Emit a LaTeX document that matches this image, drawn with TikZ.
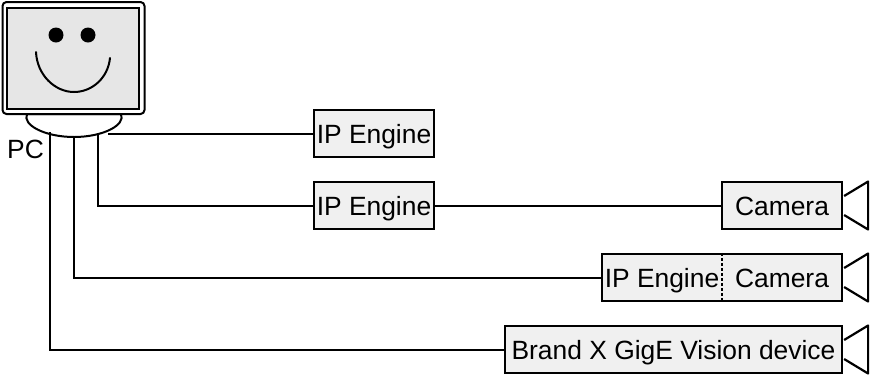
\documentclass[tikz,border=0pt]{standalone}
\usepackage{fontspec}
\setmainfont{Liberation Sans}
\usetikzlibrary{calc}
\definecolor{gris}{HTML}{F0F0F0}
\definecolor{pantalla}{HTML}{E6E6E6}
\tikzset{
  caja/.style={rectangle, draw=black, line width=2.2pt, fill=gris, inner sep=0pt,
    minimum height=47pt, text height=19pt, text depth=0pt, font=\fontsize{26.4}{30}\selectfont},
  texto/.style={inner sep=0pt, text height=19pt, text depth=0pt, font=\fontsize{26.4}{30}\selectfont},
  cable/.style={line width=2pt, line join=miter},
  lente/.style={draw=black, line width=2.2pt, fill=white, line join=round}
}
% lens drawn against the east side of a box
\newcommand{\lente}[1]{%
  \draw[lente] ($(#1.east)+(1,-9.5)$) -- ++(24,-14.5) -- ++(0,48) -- ++(-24,-14.5);}

\begin{document}
\begin{tikzpicture}[x=1pt, y=-1pt]
  \useasboundingbox (0,0) rectangle (870,376);

  % --- PC ---
  \draw[line width=2pt, fill=white] (27,114)
    .. controls (22,125) and (45,137) .. (74,137)
    .. controls (103,137) and (126,125) .. (121,114) -- cycle;
  \node[draw=black, line width=2pt, rounded corners=4pt, fill=white, inner sep=0pt,
    minimum width=142pt, minimum height=112pt] (monitor) at (73.5,58) {};
  \node[draw=black, line width=2.2pt, fill=pantalla, inner sep=0pt,
    minimum width=132pt, minimum height=101pt] (pantalla) at (73,58.5) {};
  \node[circle, fill=black, inner sep=0pt, minimum size=15pt] (ojo1) at (56,35) {};
  \node[circle, fill=black, inner sep=0pt, minimum size=15pt] (ojo2) at (88,35) {};
  \draw[line width=2pt, line cap=round] (36,52)
    .. controls (37,75) and (55,92) .. (74,92)
    .. controls (92,92) and (108,78) .. (110,58);
  \node[texto, anchor=center] (pc) at (25.5,149) {PC};

  % --- Salidas del PC ---
  \coordinate (sal1) at (108,133.5);
  \coordinate (sal2) at (98,135);
  \coordinate (sal3) at (74,137);
  \coordinate (sal4) at (50,132);

  % --- Cajas ---
  \node[caja, minimum width=120pt] (motor1) at (374,133.5) {IP Engine};
  \node[caja, minimum width=120pt] (motor2) at (374,205.5) {IP Engine};
  \node[caja, minimum width=120pt] (camara1) at (782,205.5) {Camera};
  \node[caja, minimum width=240pt] (doble) at (722,277.5) {};
  \node[texto] (motor3) at (662,277.5) {IP Engine};
  \node[texto] (camara2) at (782,277.5) {Camera};
  \node[caja, minimum width=337pt] (marca) at (673.5,349.5) {Brand X GigE Vision device};

  % --- Lentes ---
  \lente{camara1}
  \lente{doble}
  \lente{marca}

  % --- Cables ---
  \draw[cable] (sal1) -- (motor1);
  \draw[cable] (sal2) |- (motor2);
  \draw[cable] (motor2) -- (camara1);
  \draw[cable] (sal3) |- (doble);
  \draw[cable] (sal4) |- (marca);
  \draw[line width=1.6pt, densely dashed] (doble.north) -- (doble.south);

\end{tikzpicture}
\end{document}
